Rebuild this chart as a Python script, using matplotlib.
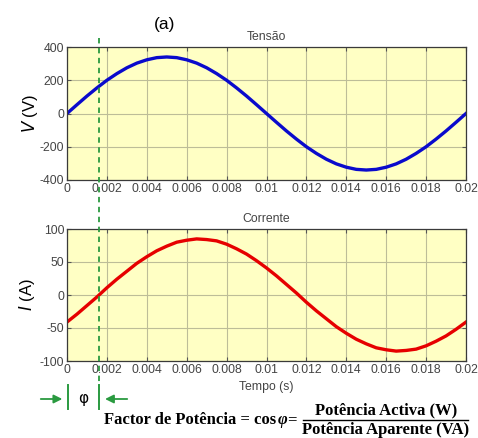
import numpy as np
import matplotlib
matplotlib.use("Agg")
import matplotlib.pyplot as plt
from matplotlib.lines import Line2D
from matplotlib.patches import FancyArrowPatch

# values, every 0.5 ms
t = [i * 0.0005 for i in range(41)]
tensao = [0, 53, 105, 154, 200, 240, 275, 303, 323, 336, 340,
          336, 323, 303, 275, 240, 200, 154, 105, 53, 0,
          -53, -105, -154, -200, -240, -275, -303, -323, -336, -340,
          -336, -323, -303, -275, -240, -200, -154, -105, -53, 0]
corrente = [-41, -29, -16, -3, 11, 24, 36, 48, 58, 67, 74,
            80, 83, 85, 84, 82, 77, 70, 62, 52, 41,
            29, 16, 3, -11, -24, -36, -48, -58, -67, -74,
            -80, -83, -85, -84, -82, -77, -70, -62, -52, -41]
t_phi = 0.0016

xticks = [0, 0.002, 0.004, 0.006, 0.008, 0.01, 0.012, 0.014, 0.016, 0.018, 0.02]
xticklabels = ["0", "0.002", "0.004", "0.006", "0.008", "0.01", "0.012",
               "0.014", "0.016", "0.018", "0.02"]

plt.rcParams['font.family'] = ['Liberation Sans', 'DejaVu Sans']
plt.rcParams['axes.unicode_minus'] = False

W, H = 478, 438
fig = plt.figure(figsize=(W / 100, H / 100), dpi=100)
ax1 = fig.add_axes([67 / W, 1 - 180 / H, 399 / W, 133 / H])
ax2 = fig.add_axes([67 / W, 1 - 361 / H, 399 / W, 132 / H])

bg = '#FFFFC4'
txt_col = '#444444'


def style(ax, ylim, yticks):
    ax.set_facecolor(bg)
    ax.set_xlim(0, 0.02)
    ax.set_ylim(*ylim)
    ax.set_xticks(xticks)
    ax.set_xticklabels(xticklabels)
    ax.set_yticks(yticks)
    ax.grid(True, color='#BDBD98', linewidth=0.8)
    ax.tick_params(direction='in', top=True, right=True, length=3,
                   labelsize=8.8, colors='#555555', labelcolor=txt_col, pad=2)
    for s in ax.spines.values():
        s.set_color('#3a3a3a')
        s.set_linewidth(0.9)


style(ax1, (-400, 400), [-400, -200, 0, 200, 400])
ax1.plot(t, tensao, color='#0A0ACC', linewidth=2.4, solid_joinstyle='round')
ax1.set_ylabel('$V$ (V)', fontsize=12, labelpad=0)
ax1.set_title('Tensão', fontsize=8.8, color=txt_col, pad=5)

style(ax2, (-100, 100), [-100, -50, 0, 50, 100])
ax2.plot(t, corrente, color='#E60000', linewidth=2.4, solid_joinstyle='round')
ax2.set_ylabel('$I$ (A)', fontsize=12, labelpad=2)
ax2.set_title('Corrente', fontsize=8.8, color=txt_col, pad=5)
ax2.set_xlabel('Tempo (s)', fontsize=8.8, color=txt_col, labelpad=4)

fig.text(165 / W, 1 - 24 / H, '(a)', fontsize=12.5, ha='center', va='center')

# dashed phase line across both plots
green = '#2A9A40'
x_phi = ax1.transData.transform((t_phi, 0))[0] / fig.bbox.width
x0 = ax1.transData.transform((0, 0))[0] / fig.bbox.width
fig.add_artist(Line2D([x_phi, x_phi], [1 - 38 / H, 1 - 385 / H],
                      transform=fig.transFigure, color=green,
                      linestyle=(0, (3, 2.5)), linewidth=1.3))
# phi markers
for xb in (x0 + 0.002, x_phi):
    fig.add_artist(Line2D([xb, xb], [1 - 385 / H, 1 - 409 / H],
                          transform=fig.transFigure, color=green, linewidth=1.4))
ya = 1 - 399 / H
fig.add_artist(FancyArrowPatch(
    (38 / W, ya), (x0 - 0.004, ya), transform=fig.transFigure,
    arrowstyle='-|>,head_length=5,head_width=2.5', color=green, linewidth=1.3))
fig.add_artist(FancyArrowPatch(
    (130 / W, ya), (x_phi + 0.007, ya), transform=fig.transFigure,
    arrowstyle='-|>,head_length=5,head_width=2.5', color=green, linewidth=1.3))
fig.text(83 / W, ya, 'φ', fontsize=11, ha='center', va='center',
         family=['DejaVu Sans'])

# power factor formula
serif = ['Liberation Serif', 'DejaVu Serif']
fs = 12
renderer = fig.canvas.get_renderer()
y_eq = 1 - 420 / H
t1 = fig.text(104 / W, y_eq, 'Factor de Potência = cos', fontsize=fs,
              ha='left', va='center', family=serif, weight='bold')
x_next = t1.get_window_extent(renderer).x1 / W + 0.003
t2 = fig.text(x_next, y_eq, 'φ', fontsize=fs, ha='left', va='center',
              family=serif, weight='bold', style='italic')
x_next = t2.get_window_extent(renderer).x1 / W
fig.text(x_next, y_eq, '=', fontsize=fs, ha='left', va='center',
         family=serif, weight='bold')
fig.text(386 / W, 1 - 410 / H, 'Potência Activa (W)', fontsize=fs,
         ha='center', va='center', family=serif, weight='bold')
fig.text(386 / W, 1 - 429.5 / H, 'Potência Aparente (VA)', fontsize=fs,
         ha='center', va='center', family=serif, weight='bold')
fig.add_artist(Line2D([303 / W, 468 / W], [1 - 419.5 / H, 1 - 419.5 / H],
                      transform=fig.transFigure, color='black', linewidth=1.0))

fig.savefig('out.png', dpi=100)
